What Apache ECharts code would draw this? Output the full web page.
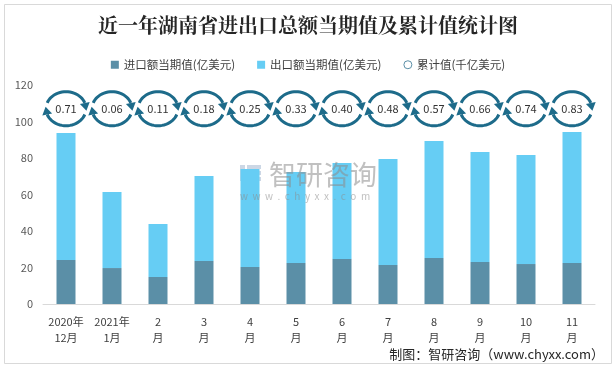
<!DOCTYPE html>
<html>
<head>
<meta charset="utf-8">
<script src="https://cdn.jsdelivr.net/npm/echarts@6/dist/echarts.min.js"></script>
<style>
html,body{margin:0;padding:0;background:#fff;}
#c{width:616px;height:368px;}
</style>
</head>
<body>
<div id="c"></div>
<script>
// ---- data ----
const categories = ['2020年\n12月','2021年\n1月','2\n月','3\n月','4\n月','5\n月','6\n月','7\n月','8\n月','9\n月','10\n月','11\n月'];
const importValues = [24.1, 19.7, 14.8, 23.6, 20.3, 22.5, 24.7, 21.4, 25.2, 23.0, 21.9, 22.5];
const exportValues = [69.6, 41.7, 29.0, 46.5, 53.7, 49.8, 52.6, 58.1, 64.1, 60.3, 59.7, 71.7];
const cumulativeValues = [0.71, 0.06, 0.11, 0.18, 0.25, 0.33, 0.40, 0.48, 0.57, 0.66, 0.74, 0.83];
const yTicks = [0, 20, 40, 60, 80, 100, 120];

// ---- layout/style ----
const RING_LEVEL = 107; // axis height at which the cumulative rings sit
const FONT = '"Noto Sans CJK SC","Noto Sans",sans-serif';
const RING_COLOR = '#1d6b8a';

function ellipsePt(cx, cy, rx, ry, deg) {
  const t = deg * Math.PI / 180;
  return [cx + rx * Math.cos(t), cy + ry * Math.sin(t)];
}
function arcPoints(cx, cy, rx, ry, a0, a1) {
  const pts = [];
  const n = 24;
  for (let i = 0; i <= n; i++) pts.push(ellipsePt(cx, cy, rx, ry, a0 + (a1 - a0) * i / n));
  return pts;
}
function arrowHead(cx, cy, rx, ry, aEnd, aTip) {
  const e = ellipsePt(cx, cy, rx, ry, aEnd);
  const tp = ellipsePt(cx, cy, rx, ry, aTip);
  let dx = tp[0] - e[0], dy = tp[1] - e[1];
  const L = Math.hypot(dx, dy); dx /= L; dy /= L;
  const nx = -dy, ny = dx, hw = 5;
  const tip = [e[0] + dx * 8, e[1] + dy * 8];
  return [[e[0] + nx * hw, e[1] + ny * hw], tip, [e[0] - nx * hw, e[1] - ny * hw]];
}

const chart = echarts.init(document.getElementById('c'), null, {renderer: 'canvas'});

const option = {
  animation: false,
  backgroundColor: '#fff',
  title: {
    text: '近一年湖南省进出口总额当期值及累计值统计图',
    left: 'center', top: 10,
    textStyle: {fontSize: 20, fontWeight: 'bold', color: '#262626', fontFamily: '"Noto Serif CJK SC","Noto Sans CJK SC",serif'}
  },
  legend: {
    top: 54, left: 'center', itemGap: 22, itemWidth: 8, itemHeight: 8,
    textStyle: {fontSize: 11.5, color: '#404040', fontFamily: FONT},
    data: [
      {name: '进口额当期值(亿美元)', icon: 'rect'},
      {name: '出口额当期值(亿美元)', icon: 'rect'},
      {name: '累计值(千亿美元)', icon: 'circle', itemStyle: {color: '#fff', borderColor: '#5b8fa7', borderWidth: 1}}
    ]
  },
  grid: {left: 43, right: 21, top: 85, bottom: 64},
  xAxis: {
    type: 'category', data: categories,
    axisLine: {lineStyle: {color: '#d9d9d9'}},
    axisTick: {show: false},
    axisLabel: {fontSize: 11, color: '#404040', lineHeight: 16, margin: 10, interval: 0, fontFamily: FONT}
  },
  yAxis: {
    type: 'value', min: yTicks[0], max: yTicks[yTicks.length - 1], interval: yTicks[1] - yTicks[0],
    axisLine: {show: false}, axisTick: {show: false}, splitLine: {show: false},
    axisLabel: {fontSize: 11, color: '#595959', margin: 10, fontFamily: FONT}
  },
  series: [
    {
      name: '进口额当期值(亿美元)', type: 'bar', stack: 'a', barWidth: 19,
      itemStyle: {color: '#5b8fa7'}, data: importValues
    },
    {
      name: '出口额当期值(亿美元)', type: 'bar', stack: 'a', barWidth: 19,
      itemStyle: {color: '#66cdf4'}, data: exportValues
    },
    {
      name: '累计值(千亿美元)', type: 'custom', z: 5,
      itemStyle: {color: '#fff', borderColor: '#5b8fa7'},
      data: cumulativeValues.map((v, i) => [i, v]),
      renderItem: function (params, api) {
        const p = api.coord([api.value(0), RING_LEVEL]);
        const cx = p[0], cy = p[1], rx = 20, ry = 17;
        const style = {stroke: RING_COLOR, lineWidth: 3, fill: null};
        return {
          type: 'group',
          children: [
            {type: 'polyline', shape: {points: arcPoints(cx, cy, rx, ry, 200, 340)}, style: style},
            {type: 'polygon', shape: {points: arrowHead(cx, cy, rx, ry, 340, 360)}, style: {fill: RING_COLOR}},
            {type: 'polyline', shape: {points: arcPoints(cx, cy, rx, ry, 20, 160)}, style: style},
            {type: 'polygon', shape: {points: arrowHead(cx, cy, rx, ry, 160, 180)}, style: {fill: RING_COLOR}},
            {type: 'text', style: {x: cx, y: cy, text: api.value(1).toFixed(2), align: 'center', verticalAlign: 'middle',
              fontSize: 11, fill: '#333', fontFamily: FONT}}
          ]
        };
      }
    }
  ],
  graphic: [
    {type: 'rect', shape: {x: 4.5, y: 4.5, width: 607, height: 359}, style: {fill: null, stroke: '#d9d9d9', lineWidth: 1}, z: 100},
    {type: 'group', left: 240, top: 165, z: 50, children: [
      {type: 'rect', shape: {x: 0, y: 0, width: 5, height: 16}, style: {fill: 'rgba(110,140,180,0.35)'}},
      {type: 'rect', shape: {x: 7, y: 0, width: 14, height: 4}, style: {fill: 'rgba(110,140,180,0.35)'}},
      {type: 'rect', shape: {x: 7, y: 6, width: 14, height: 4}, style: {fill: 'rgba(110,140,180,0.35)'}},
      {type: 'rect', shape: {x: 7, y: 12, width: 14, height: 4}, style: {fill: 'rgba(110,140,180,0.35)'}}
    ]},
    {type: 'text', left: 269, top: 161, z: 50, style: {text: '智研咨询', fontSize: 27, fill: 'rgba(140,140,140,0.55)', fontFamily: FONT}},
    {type: 'text', left: 240, top: 191, z: 50, style: {text: 'w  w  w  .  c  h  y  x  x  .  c  o  m', fontSize: 10, fill: 'rgba(140,140,140,0.55)', fontFamily: FONT}},
    {type: 'text', right: 12, top: 348, z: 50, style: {text: '制图：智研咨询（www.chyxx.com）', fontSize: 13, fill: '#262626', fontFamily: '"Noto Sans CJK SC",sans-serif'}}
  ]
};
chart.setOption(option);
</script>
</body>
</html>
